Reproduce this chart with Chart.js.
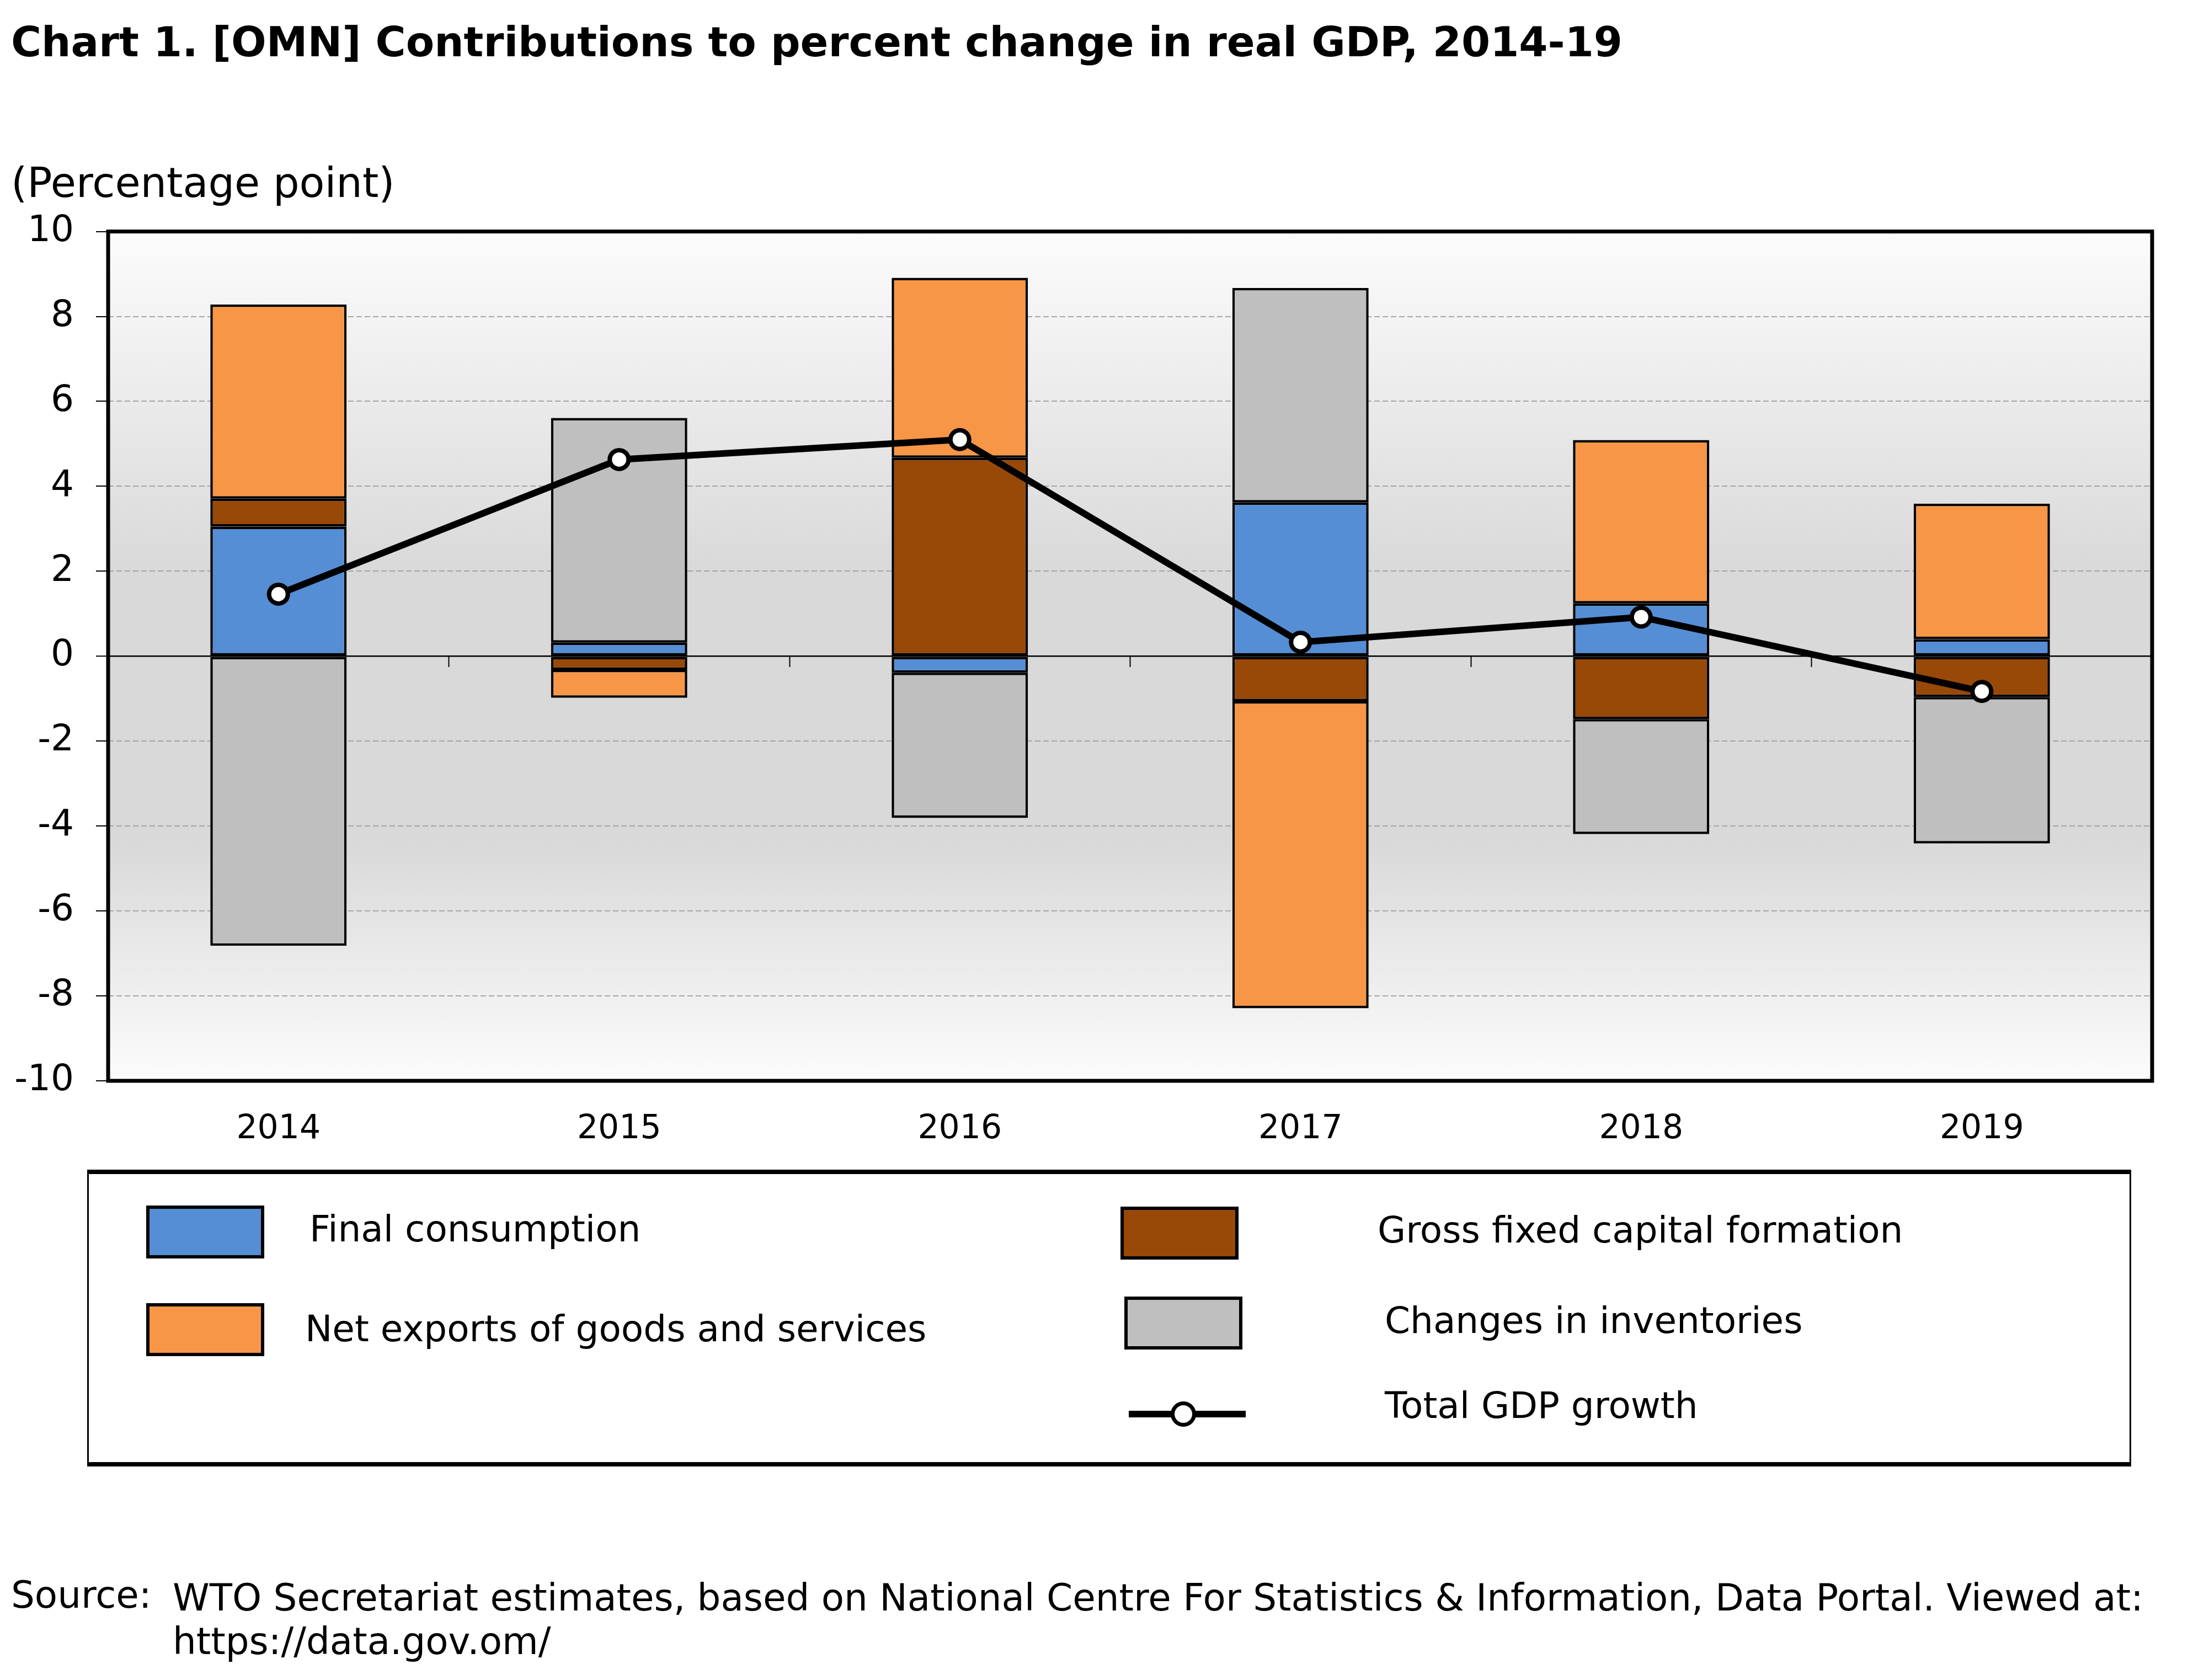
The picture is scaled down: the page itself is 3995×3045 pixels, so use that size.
<!DOCTYPE html>
<html>
<head>
<meta charset="utf-8">
<script src="https://cdn.jsdelivr.net/npm/chart.js@4.4.1/dist/chart.umd.min.js"></script>
<style>
  html, body { margin: 0; padding: 0; background: #fff; }
  body { width: 3995px; height: 3045px; position: relative; overflow: hidden;
         font-family: "DejaVu Sans", Verdana, sans-serif; color: #000; }
  .abs { position: absolute; white-space: nowrap; line-height: 1; }
  .mid { transform: translateY(-50%); }
  #title { left: 20px; top: 76px; font-weight: bold; font-size: 75px; }
  #unit { left: 20px; top: 331px; font-size: 75px; }
  #wrap { position: absolute; left: 0; top: 340px; width: 3995px; height: 1810px; }
  #legendBox { position: absolute; left: 158px; top: 2120px; width: 3705px; height: 538px;
               box-sizing: border-box; border: solid #000; border-width: 8px 3px 8px 3px; }
  .sw { position: absolute; width: 214px; height: 96px; box-sizing: border-box; border: 6px solid #000; }
  .lab { font-size: 66px; }
  .lineSym { position: absolute; left: 2046px; top: 2557px; width: 212px; height: 12px; background: #000; }
  .lineDot { position: absolute; left: 2122px; top: 2540px; width: 46px; height: 46px; box-sizing: border-box;
             border: 7px solid #000; border-radius: 50%; background: #fff; }
  .src { font-size: 67.5px; }
</style>
</head>
<body>
<div id="title" class="abs mid">Chart 1. [OMN] Contributions to percent change in real GDP, 2014-19</div>
<div id="unit" class="abs mid">(Percentage point)</div>
<div id="wrap"><canvas id="chart"></canvas></div>
<div id="legendBox"></div>
<div id="legend"></div>
<div class="abs mid src" style="left:20px;top:2891px;">Source:</div>
<div class="abs mid src" style="left:313px;top:2896px;">WTO Secretariat estimates, based on National Centre For Statistics &amp; Information, Data Portal. Viewed at:</div>
<div class="abs mid src" style="left:313px;top:2975px;">https://data.gov.om/</div>

<script>
// values (percentage points)
const years = ['2014', '2015', '2016', '2017', '2018', '2019'];
const finalConsumption = [3.05, 0.32, -0.39, 3.62, 1.24, 0.40];
const grossFixedCapital = [0.66, -0.32, 4.67, -1.06, -1.48, -0.96];
const netExports = [4.57, -0.66, 4.24, -7.23, 3.85, 3.19];
const inventories = [-6.82, 5.29, -3.42, 5.05, -2.71, -3.45];
const totalGdp = [1.46, 4.63, 5.10, 0.33, 0.92, -0.83];
const yTicks = [-10, -8, -6, -4, -2, 0, 2, 4, 6, 8, 10];

const seriesNames = ['Final consumption', 'Gross fixed capital formation', 'Net exports of goods and services', 'Changes in inventories', 'Total GDP growth'];
const seriesColors = ['#558ed5', '#984807', '#f79646', '#bfbfbf', '#000000'];

const FONT = '"DejaVu Sans", Verdana, sans-serif';

// plot background gradient + heavy frame, like the Excel original
const plotFrame = {
  id: 'plotFrame',
  beforeDraw(chart) {
    const { ctx, chartArea: a } = chart;
    const g = ctx.createLinearGradient(0, a.top, 0, a.bottom);
    g.addColorStop(0, '#fcfcfc');
    g.addColorStop(0.4, '#d9d9d9');
    g.addColorStop(0.72, '#d9d9d9');
    g.addColorStop(1, '#fcfcfc');
    ctx.save();
    ctx.fillStyle = g;
    ctx.fillRect(a.left, a.top, a.right - a.left, a.bottom - a.top);
    ctx.restore();
  },
  afterDraw(chart) {
    const { ctx, chartArea: a } = chart;
    ctx.save();
    ctx.strokeStyle = '#000';
    ctx.lineWidth = 7;
    ctx.strokeRect(a.left, a.top, a.right - a.left, a.bottom - a.top);
    ctx.restore();
  }
};

const barSet = (i, data) => ({
  type: 'bar',
  label: seriesNames[i],
  data,
  backgroundColor: seriesColors[i],
  borderColor: '#000',
  borderWidth: 4.5,
  borderSkipped: false,
  barPercentage: 0.4,
  categoryPercentage: 1,
  order: 1
});

new Chart(document.getElementById('chart'), {
  type: 'bar',
  data: {
    labels: years,
    datasets: [
      {
        type: 'line',
        label: seriesNames[4],
        data: totalGdp,
        borderColor: '#000',
        borderWidth: 12,
        tension: 0,
        pointRadius: 17,
        pointBorderWidth: 8,
        pointBackgroundColor: '#fff',
        pointBorderColor: '#000',
        order: 0
      },
      barSet(0, finalConsumption),
      barSet(1, grossFixedCapital),
      barSet(2, netExports),
      barSet(3, inventories)
    ]
  },
  options: {
    responsive: true,
    maintainAspectRatio: false,
    animation: false,
    // top space comes from the y-axis label padding (about 80px)
    layout: { padding: { left: 0, right: 94, top: 0, bottom: 0 } },
    plugins: { legend: { display: false }, tooltip: { enabled: false } },
    scales: {
      x: {
        stacked: true,
        grid: { display: false },
        border: { display: false },
        ticks: { color: '#000', font: { family: FONT, size: 60 }, padding: 44 },
        afterFit: s => { s.height = 191; }
      },
      // second category axis sitting on y = 0, only for the small tick marks
      x2: {
        type: 'category',
        position: { y: 0 },
        offset: true,
        grid: { offset: true, drawOnChartArea: false, drawTicks: true, tickLength: 20, tickWidth: 2, tickColor: '#000' },
        ticks: { display: false },
        border: { display: false },
        afterFit: s => { s.height = 0; }
      },
      y: {
        stacked: true,
        min: -10,
        max: 10,
        afterBuildTicks: s => { s.ticks = yTicks.map(v => ({ value: v })); },
        afterFit: s => { s.width = 196; },
        ticks: { color: '#000', font: { family: FONT, size: 66 }, padding: 40 },
        grid: {
          color: c => (c.tick && c.tick.value === 0 ? '#000' : '#a6a6a6'),
          lineWidth: c => (c.tick && c.tick.value === 0 ? 2.5 : 2),
          tickLength: 22,
          tickWidth: 2,
          tickColor: '#000',
          tickBorderDash: []
        },
        border: {
          display: false,
          dash: c => (c.tick && c.tick.value === 0 ? [] : [10, 5])
        }
      }
    }
  },
  plugins: [plotFrame]
});

// legend, two columns like the original
const legendSpots = [
  { sw: [265, 2185], txt: [561, 2228] },
  { sw: [2031, 2187], txt: [2497, 2230] },
  { sw: [265, 2362], txt: [553, 2409] },
  { sw: [2038, 2350], txt: [2510, 2394] },
  { sw: null, txt: [2510, 2548] }
];
const leg = document.getElementById('legend');
leg.innerHTML = seriesNames.map((name, i) => {
  const p = legendSpots[i];
  const mark = p.sw
    ? `<div class="sw" style="left:${p.sw[0]}px;top:${p.sw[1]}px;background:${seriesColors[i]}"></div>`
    : '<div class="lineSym"></div><div class="lineDot"></div>';
  return mark + `<div class="abs mid lab" style="left:${p.txt[0]}px;top:${p.txt[1]}px">${name}</div>`;
}).join('');
</script>
</body>
</html>
